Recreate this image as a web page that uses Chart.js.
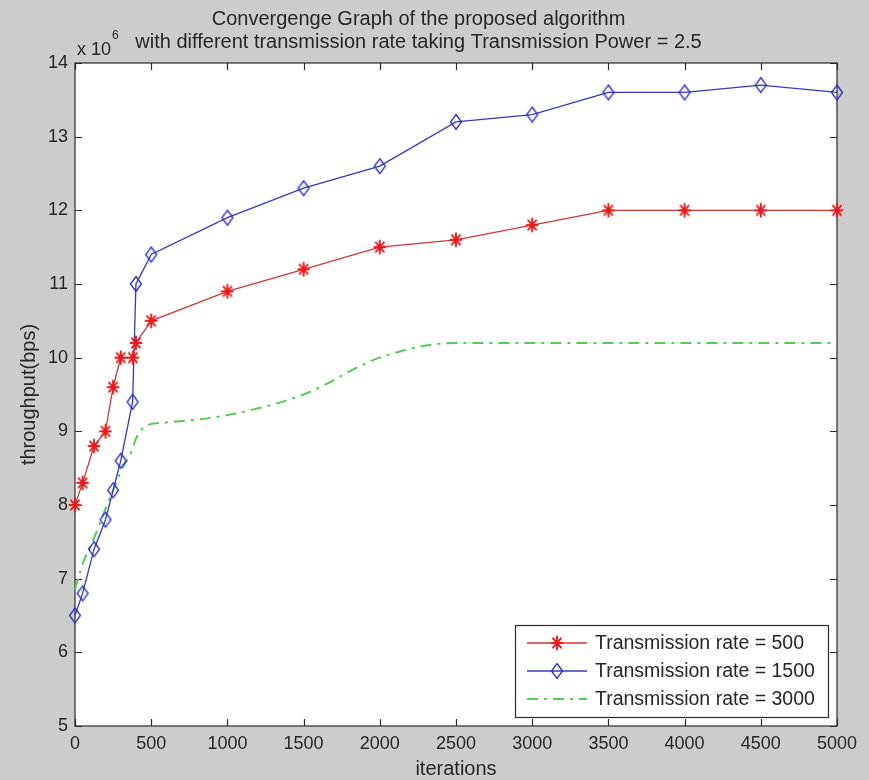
<!DOCTYPE html>
<html>
<head>
<meta charset="utf-8">
<script src="https://cdn.jsdelivr.net/npm/chart.js@4/dist/chart.umd.min.js"></script>
<style>
  html, body { margin: 0; padding: 0; background: #cccccc; }
  #wrap { width: 869px; height: 780px; }
</style>
</head>
<body>
<div id="wrap"><canvas id="c" width="869" height="780"></canvas></div>
<script>
// Throughput (x 10^6 bps) against iteration count for three transmission rates
const titleLines = [
  'Convergenge Graph of the proposed algorithm',
  'with different transmission rate taking Transmission Power = 2.5'
];
const seriesNames = ['Transmission rate = 500', 'Transmission rate = 1500', 'Transmission rate = 3000'];

const rate500Iter = [0, 50, 125, 200, 250, 300, 380, 400, 500, 1000, 1500, 2000, 2500, 3000, 3500, 4000, 4500, 5000];
const rate500Tput = [8.0, 8.3, 8.8, 9.0, 9.6, 10.0, 10.0, 10.2, 10.5, 10.9, 11.2, 11.5, 11.6, 11.8, 12.0, 12.0, 12.0, 12.0];

const rate1500Iter = [0, 50, 125, 200, 250, 300, 378, 400, 500, 1000, 1500, 2000, 2500, 3000, 3500, 4000, 4500, 5000];
const rate1500Tput = [6.5, 6.8, 7.4, 7.8, 8.2, 8.6, 9.4, 11.0, 11.4, 11.9, 12.3, 12.6, 13.2, 13.3, 13.6, 13.6, 13.7, 13.6];

const rate3000Iter = [0, 50, 125, 200, 250, 300, 375, 400, 450, 500, 600, 1000, 1500, 2000, 2500, 3000, 3500, 4000, 4500, 5000];
const rate3000Tput = [6.85, 7.2, 7.55, 7.95, 8.2, 8.45, 8.75, 8.9, 9.05, 9.1, 9.12, 9.22, 9.5, 10.0, 10.2, 10.2, 10.2, 10.2, 10.2, 10.2];

const xTicks = [0, 500, 1000, 1500, 2000, 2500, 3000, 3500, 4000, 4500, 5000];
const yTicks = [5, 6, 7, 8, 9, 10, 11, 12, 13, 14];
const exponentLabel = ['x 10', '6'];
const xTitle = 'iterations';
const yTitle = 'throughput(bps)';

const FONT = "'Liberation Sans', Arial, sans-serif";
const INK = '#262626';

// marker images
function asteriskMarker(color) {
  const c = document.createElement('canvas');
  c.width = 14; c.height = 16;
  const g = c.getContext('2d');
  g.strokeStyle = color; g.lineWidth = 1.9; g.lineCap = 'round';
  const cx = 7, cy = 8, rx = 5.5, ry = 6.5;
  g.beginPath();
  g.moveTo(cx, cy - ry); g.lineTo(cx, cy + ry);
  g.moveTo(cx - rx, cy); g.lineTo(cx + rx, cy);
  g.moveTo(cx - rx * 0.72, cy - ry * 0.72); g.lineTo(cx + rx * 0.72, cy + ry * 0.72);
  g.moveTo(cx + rx * 0.72, cy - ry * 0.72); g.lineTo(cx - rx * 0.72, cy + ry * 0.72);
  g.stroke();
  return c;
}
function diamondMarker(color) {
  const c = document.createElement('canvas');
  c.width = 14; c.height = 18;
  const g = c.getContext('2d');
  g.strokeStyle = color; g.lineWidth = 1.3;
  g.beginPath();
  g.moveTo(7, 1.5); g.lineTo(12.5, 9); g.lineTo(7, 16.5); g.lineTo(1.5, 9); g.closePath();
  g.stroke();
  return c;
}

const redLine = 'rgb(205,55,55)';
const blueLine = 'rgb(55,55,190)';
const greenLine = 'rgb(85,205,85)';
const starImg = asteriskMarker('rgb(235,25,25)');
const diamondImg = diamondMarker('rgb(40,40,200)');

const toPoints = (xs, ys) => xs.map((x, i) => ({ x: x, y: ys[i] }));

// white plot box, frame and inward tick marks on all four sides
const axesBox = {
  id: 'axesBox',
  beforeDraw(chart) {
    const { ctx, chartArea: a } = chart;
    ctx.save();
    ctx.fillStyle = '#cccccc';
    ctx.fillRect(0, 0, chart.width, chart.height);
    ctx.fillStyle = '#ffffff';
    ctx.fillRect(a.left, a.top, a.right - a.left, a.bottom - a.top);
    ctx.restore();
  },
  beforeDatasetsDraw(chart) {
    const { ctx, chartArea: a, scales } = chart;
    ctx.save();
    ctx.strokeStyle = '#2a2a2a';
    ctx.lineWidth = 1.2;
    ctx.strokeRect(a.left, a.top, a.right - a.left, a.bottom - a.top);
    const t = 7;
    ctx.beginPath();
    xTicks.forEach(v => {
      const px = Math.round(scales.x.getPixelForValue(v)) + 0.5;
      ctx.moveTo(px, a.bottom); ctx.lineTo(px, a.bottom - t);
      ctx.moveTo(px, a.top); ctx.lineTo(px, a.top + t);
    });
    yTicks.forEach(v => {
      const py = Math.round(scales.y.getPixelForValue(v)) + 0.5;
      ctx.moveTo(a.left, py); ctx.lineTo(a.left + t, py);
      ctx.moveTo(a.right, py); ctx.lineTo(a.right - t, py);
    });
    ctx.stroke();
    // exponent above the y axis
    ctx.fillStyle = INK;
    ctx.textBaseline = 'alphabetic';
    ctx.textAlign = 'left';
    ctx.font = '18px ' + FONT;
    ctx.fillText(exponentLabel[0], a.left + 2, a.top - 8);
    const w = ctx.measureText(exponentLabel[0]).width;
    ctx.font = '12px ' + FONT;
    ctx.fillText(exponentLabel[1], a.left + 3 + w, a.top - 24);
    ctx.restore();
  },
  afterDraw(chart) {
    // legend box in the lower right of the plot
    const { ctx } = chart;
    const bx = 515, by = 625, bw = 313, bh = 92;
    ctx.save();
    ctx.fillStyle = '#ffffff';
    ctx.fillRect(bx, by, bw, bh);
    ctx.strokeStyle = '#2a2a2a';
    ctx.lineWidth = 1.2;
    ctx.strokeRect(bx + 0.5, by + 0.5, bw, bh);
    chart.data.datasets.forEach((ds, i) => {
      const y = by + 18 + i * 28;
      ctx.save();
      ctx.strokeStyle = ds.borderColor;
      ctx.lineWidth = ds.borderWidth;
      ctx.setLineDash(ds.borderDash || []);
      ctx.beginPath();
      ctx.moveTo(bx + 12, y); ctx.lineTo(bx + 72, y);
      ctx.stroke();
      ctx.restore();
      if (ds.pointStyle && ds.pointRadius > 0) {
        const img = ds.pointStyle;
        ctx.drawImage(img, bx + 42 - img.width / 2, y - img.height / 2);
      }
      ctx.fillStyle = INK;
      ctx.font = '19.5px ' + FONT;
      ctx.textBaseline = 'middle';
      ctx.textAlign = 'left';
      ctx.fillText(ds.label, bx + 80, y + 1);
    });
    ctx.restore();
  }
};

new Chart(document.getElementById('c'), {
  type: 'line',
  data: {
    datasets: [
      {
        label: seriesNames[0],
        data: toPoints(rate500Iter, rate500Tput),
        borderColor: redLine, borderWidth: 1.3,
        pointStyle: starImg, pointRadius: 6, tension: 0, clip: false
      },
      {
        label: seriesNames[1],
        data: toPoints(rate1500Iter, rate1500Tput),
        borderColor: blueLine, borderWidth: 1.3,
        pointStyle: diamondImg, pointRadius: 6, tension: 0, clip: false
      },
      {
        label: seriesNames[2],
        data: toPoints(rate3000Iter, rate3000Tput),
        borderColor: greenLine, borderWidth: 2, borderDash: [11, 6, 3, 6],
        pointRadius: 0, cubicInterpolationMode: 'monotone', clip: false
      }
    ]
  },
  options: {
    responsive: false,
    animation: false,
    events: [],
    devicePixelRatio: 1,
    layout: { padding: { left: 0, right: 32, top: 0, bottom: 0 } },
    plugins: {
      legend: { display: false },
      tooltip: { enabled: false },
      title: {
        display: true,
        text: titleLines,
        color: INK,
        font: { family: FONT, size: 20, weight: 'normal', lineHeight: 1.15 },
        padding: { top: 8, bottom: 9 }
      }
    },
    scales: {
      x: {
        type: 'linear', min: 0, max: 5000,
        afterFit: s => { s.height = 54; },
        afterBuildTicks: s => { s.ticks = xTicks.map(v => ({ value: v })); },
        grid: { display: false, drawTicks: false },
        border: { display: false },
        ticks: {
          color: INK, padding: 7, maxRotation: 0, autoSkip: false,
          font: { family: FONT, size: 18, lineHeight: 1.2 },
          callback: v => String(v)
        },
        title: {
          display: true, text: xTitle, color: INK,
          font: { family: FONT, size: 20, lineHeight: 1.1 },
          padding: { top: 0, bottom: 0 }
        }
      },
      y: {
        type: 'linear', min: 5, max: 14,
        afterFit: s => { s.width = 75; },
        afterBuildTicks: s => { s.ticks = yTicks.map(v => ({ value: v })); },
        grid: { display: false, drawTicks: false },
        border: { display: false },
        ticks: {
          color: INK, padding: 7, autoSkip: false,
          font: { family: FONT, size: 18, lineHeight: 1.2 },
          callback: v => String(v)
        },
        title: {
          display: true, text: yTitle, color: INK,
          font: { family: FONT, size: 20, lineHeight: 1.2 },
          padding: { top: 17, bottom: 0 }
        }
      }
    }
  },
  plugins: [axesBox]
});
</script>
</body>
</html>
